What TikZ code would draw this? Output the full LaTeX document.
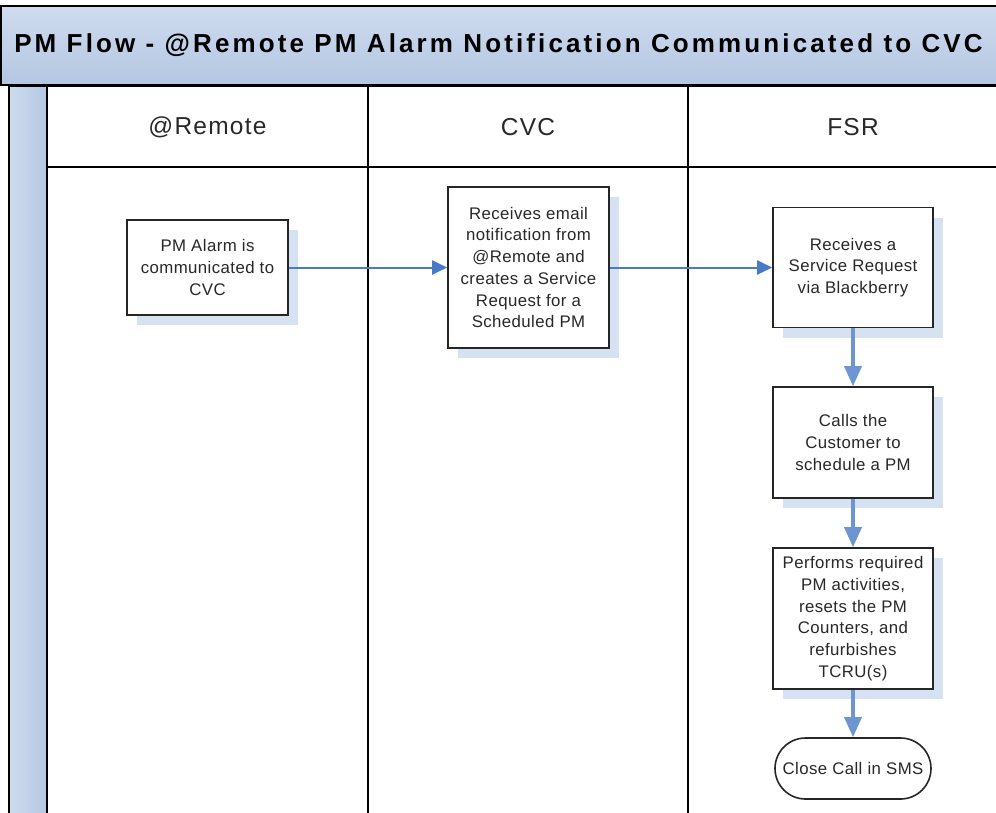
\documentclass[tikz,border=0pt]{standalone}
\usepackage{fontspec}
\setmainfont{Liberation Sans}
\newfontfamily\titlefont[LetterSpace=12]{Liberation Sans}
\newfontfamily\lanefont[LetterSpace=5]{Liberation Sans}
\newfontfamily\boxfont[LetterSpace=2.5]{Liberation Sans}
\usetikzlibrary{arrows.meta,positioning,shadows,shapes.misc}

\definecolor{bartop}{RGB}{207,220,239}
\definecolor{barblue}{RGB}{180,198,226}
\definecolor{shadeblue}{RGB}{214,225,242}
\definecolor{flowblue}{RGB}{72,122,198}
\definecolor{inkgray}{RGB}{40,40,40}

\tikzset{
  stepbox/.style={draw=black!85,line width=1.6pt,fill=white,align=center,
    minimum width=161pt,inner sep=2pt,text=inkgray,
    font=\boxfont\fontsize{16.8}{21.7}\selectfont,
    drop shadow={shadow xshift=10pt,shadow yshift=-10pt,fill=shadeblue,opacity=1}},
  endbox/.style={rounded rectangle,draw=black!85,line width=1.6pt,fill=white,
    minimum width=160pt,minimum height=61pt,inner sep=2pt,text=inkgray,
    font=\boxfont\fontsize{16.8}{21.7}\selectfont},
  lanelabel/.style={text=inkgray,font=\lanefont\fontsize{24.5}{28}\selectfont},
  flow/.style={-{Triangle[length=15pt,width=14pt]},draw=flowblue,line width=2pt},
  flowdown/.style={-{Triangle[length=20pt,width=17pt]},draw=flowblue!80,line width=3.5pt}
}

\begin{document}
\begin{tikzpicture}[x=1pt,y=-1pt]
  \useasboundingbox (0,0) rectangle (996,812);

  % pool and lanes
  \draw[line width=2pt,top color=bartop,bottom color=barblue] (1,6) rectangle (1010,85);
  \node[font=\titlefont\bfseries\fontsize{26}{30}\selectfont] (title) at (498.5,45) {PM Flow - @Remote PM Alarm Notification Communicated to CVC};
  \draw[line width=2pt,left color=bartop,right color=barblue] (9,86) rectangle (47,830);
  \draw[line width=1.6pt] (47,86) rectangle (1010,830);
  \draw[line width=1.6pt] (47,167) -- (1010,167);
  \draw[line width=1.6pt] (368,86) -- (368,830);
  \draw[line width=1.6pt] (688,86) -- (688,830);
  \node[lanelabel] (remote) at (207.5,127) {@Remote};
  \node[lanelabel] (cvc) at (528,127) {CVC};
  \node[lanelabel] (fsr) at (853,127) {FSR};

  % steps
  \node[stepbox,minimum height=95pt] (alarm) at (207.5,267.5) {PM Alarm is\\communicated to\\CVC};
  \node[stepbox,minimum height=161pt] (email) at (528.5,267.5) {Receives email\\notification from\\@Remote and\\creates a Service\\Request for a\\Scheduled PM};
  \node[stepbox,minimum width=160pt,minimum height=120pt] (srq) at (853,267.5) {Receives a\\Service Request\\via Blackberry};
  \node[stepbox,minimum width=160pt,minimum height=111pt] (callcust) at (853,442.5) {Calls the\\Customer to\\schedule a PM};
  \node[stepbox,minimum width=160pt,minimum height=141pt] (perform) at (853,618.5) {Performs required\\PM activities,\\resets the PM\\Counters, and\\refurbishes\\TCRU(s)};
  \node[endbox] (close) at (853,768.5) {Close Call in SMS};

  \path(alarm) edge [flow] (email);
  \path(email) edge [flow] (srq);
  \path(srq) edge [flowdown] (callcust);
  \path(callcust) edge [flowdown] (perform);
  \path(perform) edge [flowdown] (close);
\end{tikzpicture}
\end{document}
